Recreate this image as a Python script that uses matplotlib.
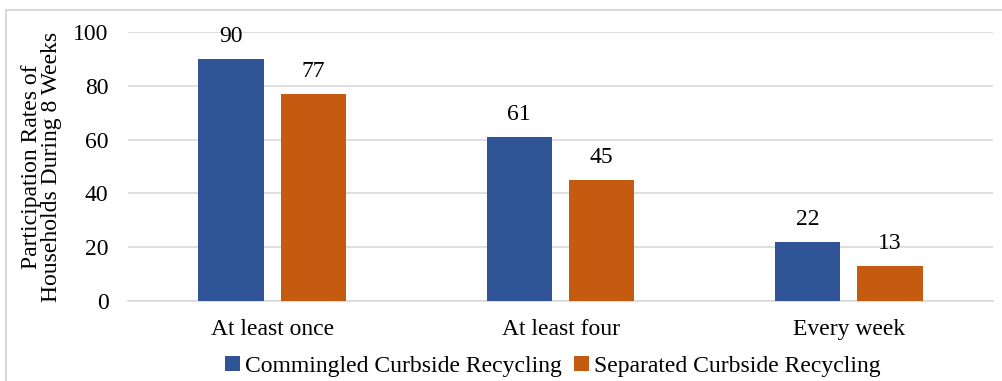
import matplotlib.pyplot as plt
import numpy as np
from matplotlib.patches import Rectangle

categories = ["At least once", "At least four", "Every week"]
commingled = [90, 61, 22]
separated = [77, 45, 13]
series_names = ["Commingled Curbside Recycling", "Separated Curbside Recycling"]

blue = "#2f5597"
orange = "#c55a11"

plt.rcParams['font.family'] = ['Liberation Serif', 'DejaVu Serif']

fig = plt.figure(figsize=(10.03, 3.81), dpi=100)
ax = fig.add_axes([128 / 1003, 80 / 381, 865 / 1003, 269 / 381])

x = np.arange(len(categories))
w = 0.226
off = 0.143
b1 = ax.bar(x - off, commingled, w, color=blue, label=series_names[0], zorder=3)
b2 = ax.bar(x + off, separated, w, color=orange, label=series_names[1], zorder=3)

for bars in (b1, b2):
    for r in bars:
        ax.text(r.get_x() + r.get_width() / 2, r.get_height() + 4.5, f"{r.get_height():.0f}",
                ha="center", va="bottom", fontsize=17)

ax.set_xlim(-0.5, 2.5)
ax.set_ylim(0, 100)
ax.set_yticks(range(0, 101, 20))
ax.set_xticks(x)
ax.set_xticklabels(categories)
ax.tick_params(axis="both", length=0, labelsize=17)
ax.tick_params(axis="x", pad=13)
ax.tick_params(axis="y", pad=14)
ax.grid(axis="y", color="#d9d9d9", linewidth=1.2, zorder=0)
for s in ("top", "right", "left"):
    ax.spines[s].set_visible(False)
ax.spines["bottom"].set_color("#d9d9d9")
ax.spines["bottom"].set_linewidth(1.2)

ax.set_ylabel("Participation Rates of\nHouseholds During 8 Weeks", fontsize=17, labelpad=8,
              linespacing=0.95)

fig.legend(loc="lower center", bbox_to_anchor=(0.551, -0.045), ncol=2, frameon=False,
           fontsize=17, handlelength=0.65, handleheight=0.65, handletextpad=0.2,
           columnspacing=0.5)

# outer chart border, open at right and bottom like the cropped original
fig.patches.append(Rectangle((6 / 1003, -0.1), 1.2, 0.1 + 371 / 381, transform=fig.transFigure,
                             fill=False, edgecolor="#d9d9d9", linewidth=1.5))

fig.savefig("out.png", dpi=100)
